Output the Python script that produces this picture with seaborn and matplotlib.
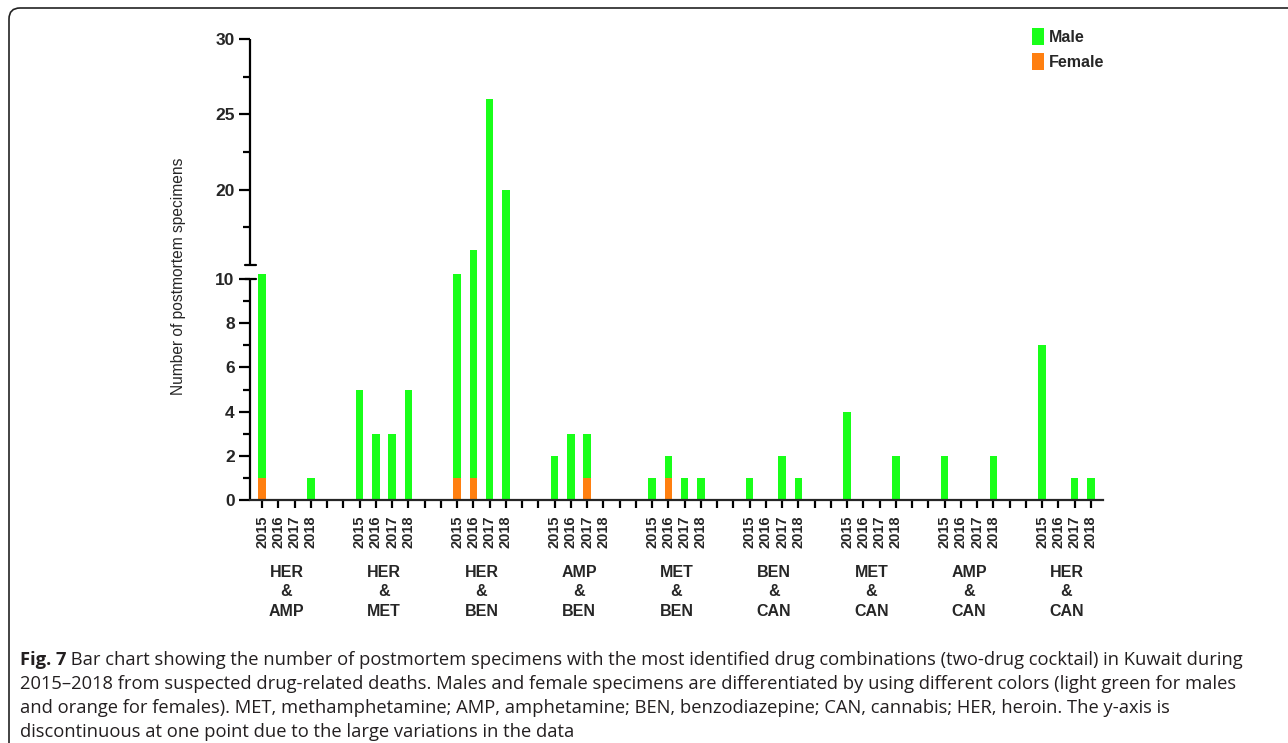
import numpy as np
import pandas as pd
import matplotlib
matplotlib.use("Agg")
import matplotlib.pyplot as plt
import matplotlib.transforms as mtransforms
from matplotlib.patches import Patch, FancyBboxPatch
import seaborn as sns

# ---------------- data ----------------
groups = ["HER\n&\nAMP", "HER\n&\nMET", "HER\n&\nBEN", "AMP\n&\nBEN", "MET\n&\nBEN",
          "BEN\n&\nCAN", "MET\n&\nCAN", "AMP\n&\nCAN", "HER\n&\nCAN"]
years = ["2015", "2016", "2017", "2018"]
male = [11, 0, 0, 1,
        5, 3, 3, 5,
        11, 15, 26, 20,
        2, 3, 2, 0,
        1, 1, 1, 1,
        1, 0, 2, 1,
        4, 0, 0, 2,
        2, 0, 0, 2,
        7, 0, 1, 1]
female = [1, 0, 0, 0,
          0, 0, 0, 0,
          1, 1, 0, 0,
          0, 0, 1, 0,
          0, 1, 0, 0,
          0, 0, 0, 0,
          0, 0, 0, 0,
          0, 0, 0, 0,
          0, 0, 0, 0]
yticks_major = [0, 2, 4, 6, 8, 10, 20, 25, 30]
yticks_minor = [1, 3, 5, 7, 9, 17.5, 22.5, 27.5]
caption_lines = [
    "2015\u20132018 from suspected drug-related deaths. Males and female specimens are differentiated by using different colors (light green for males",
    "and orange for females). MET, methamphetamine; AMP, amphetamine; BEN, benzodiazepine; CAN, cannabis; HER, heroin. The y-axis is",
    "discontinuous at one point due to the large variations in the data",
]
caption_first = " Bar chart showing the number of postmortem specimens with the most identified drug combinations (two-drug cocktail) in Kuwait during"

GREEN = "#19FF19"
ORANGE = "#FF7F10"
SLOTS_PER_GROUP = 6

rows = []
for gi, g in enumerate(groups):
    for yi, yr in enumerate(years):
        k = gi * 4 + yi
        rows.append(dict(group=g, year=yr, slot=gi * SLOTS_PER_GROUP + yi,
                         male=male[k], female=female[k], total=male[k] + female[k]))
df = pd.DataFrame(rows)

# ---------------- style ----------------
sns.set_style("ticks")
plt.rcParams["font.family"] = ["Liberation Sans", "DejaVu Sans"]

W, H = 1288, 743
fig = plt.figure(figsize=(W / 100, H / 100), dpi=100)
ax = fig.add_axes([250 / W, (H - 500) / H, (1103 - 250) / W, (500 - 39) / H])

# broken y axis: 0-10 (22.07 px/unit), gap 10-15 (14 px), 15-30 (15.07 px/unit)
xp = np.array([-1000.0, 0, 10, 15, 30, 1000])
fp = np.array([-22070.0, 0, 220.7, 234.7, 460.7, 460.7 + 970 * 15.07])


def fwd(y):
    return np.interp(y, xp, fp)


def inv(u):
    return np.interp(u, fp, xp)


sns.barplot(data=df, x="slot", y="total", native_scale=True, color=GREEN,
            saturation=1, width=0.46, linewidth=0, errorbar=None, ax=ax)
sns.barplot(data=df, x="slot", y="female", native_scale=True, color=ORANGE,
            saturation=1, width=0.46, linewidth=0, errorbar=None, ax=ax)

ax.set_yscale("function", functions=(fwd, inv))
ax.set_ylim(0, 30)
n_slots = len(groups) * SLOTS_PER_GROUP - 2
ax.set_xlim(-0.74, n_slots - 1 + 0.75)

# y ticks
ax.set_yticks(yticks_major)
ax.set_yticklabels([str(t) for t in yticks_major], fontsize=12.5, fontweight="bold")
ax.set_yticks(yticks_minor, minor=True)
ax.tick_params(axis="y", which="major", length=8, width=1.6, pad=3, color="black")
ax.tick_params(axis="y", which="minor", length=5, width=1.6, color="black")

# x ticks at every slot, labels only under data slots
all_slots = list(range(n_slots))
data_slots = dict(zip(df["slot"], df["year"]))
ax.set_xticks(all_slots)
ax.set_xticklabels([data_slots.get(s, "") for s in all_slots], rotation=90,
                   fontsize=10.5, fontweight="bold")
ax.tick_params(axis="x", length=6, width=1.6, pad=5, color="black")

# spines
for s in ["top", "right", "left"]:
    ax.spines[s].set_visible(False)
ax.spines["bottom"].set_linewidth(1.6)

bt = mtransforms.blended_transform_factory(ax.transAxes, ax.transData)
cap = 5.5 / 853
ax.plot([0, 0], [0, 10], color="black", lw=1.6, transform=bt, clip_on=False, solid_capstyle="butt")
ax.plot([0, 0], [15, 30], color="black", lw=1.6, transform=bt, clip_on=False, solid_capstyle="butt")
ax.plot([-cap, cap], [10, 10], color="black", lw=1.6, transform=bt, clip_on=False)
ax.plot([-cap, cap], [15, 15], color="black", lw=1.6, transform=bt, clip_on=False)

ax.set_xlabel("")
ax.set_ylabel("Number of postmortem specimens", fontsize=11.2)
ax.yaxis.set_label_coords(-0.075, 0.486)

# group labels
gt = mtransforms.blended_transform_factory(ax.transData, ax.transAxes)
for gi, g in enumerate(groups):
    ax.text(gi * SLOTS_PER_GROUP + 1.5, -0.14, g, transform=gt, ha="center", va="top",
            fontsize=11.5, fontweight="bold", linespacing=1.4, multialignment="center")

# legend
handles = [Patch(facecolor=GREEN, edgecolor="none"), Patch(facecolor=ORANGE, edgecolor="none")]
fig.legend(handles, ["Male", "Female"], loc="upper left",
           bbox_to_anchor=(1032 / W, 1 - 28 / H), frameon=False,
           prop=dict(weight="bold", size=11.5), handlelength=0.75, handleheight=1.3,
           handletextpad=0.3, labelspacing=0.45, borderaxespad=0, borderpad=0)

# caption
CAP_COLOR = "#231F20"
cap_font = ["Open Sans", "DejaVu Sans"]
CAP_SIZE = 13.22
t1 = fig.text(20 / W, 1 - 660 / H, "Fig. 7", fontsize=CAP_SIZE, fontweight="bold",
              family=cap_font, color=CAP_COLOR, va="center")
fig.canvas.draw()
ax.annotate(caption_first, xy=(1, 0.5), xycoords=t1, va="center", ha="left",
            fontsize=CAP_SIZE, family=cap_font, color=CAP_COLOR, annotation_clip=False)
for i, line in enumerate(caption_lines):
    fig.text(20 / W, 1 - (684 + 24 * i) / H, line, fontsize=CAP_SIZE, family=cap_font,
             color=CAP_COLOR, va="center")

# frame (left and top with rounded corner)
frame = FancyBboxPatch((9, -12), 1400, (H - 8) + 12, boxstyle="round,pad=0,rounding_size=11",
                       transform=mtransforms.IdentityTransform(), fill=False,
                       edgecolor="#222222", lw=1.2, figure=fig)
fig.patches.append(frame)

fig.savefig("out.png", dpi=100)
